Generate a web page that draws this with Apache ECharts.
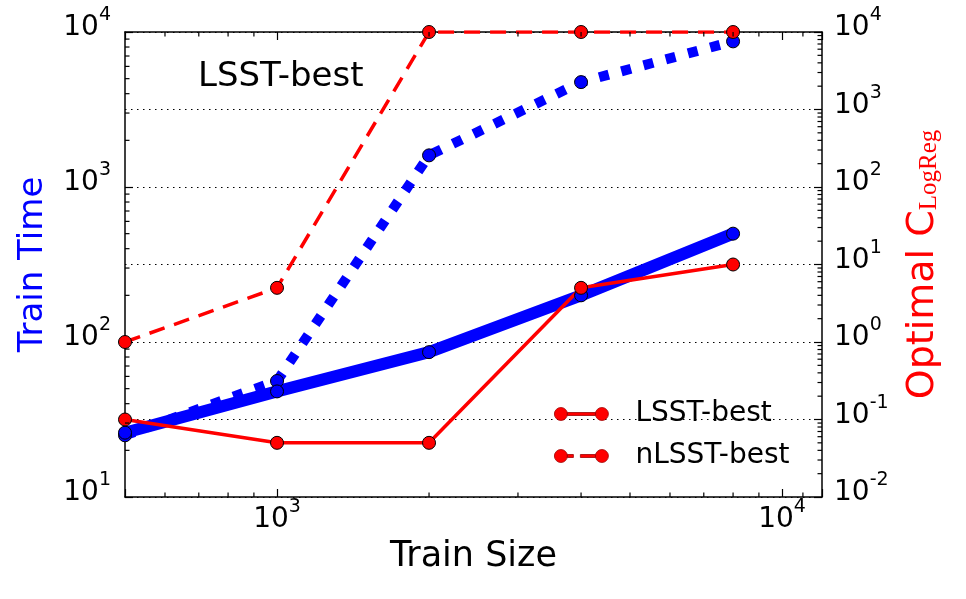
<!DOCTYPE html>
<html>
<head>
<meta charset="utf-8">
<script src="https://cdn.jsdelivr.net/npm/echarts@6/dist/echarts.min.js"></script>
<style>
  html, body { margin: 0; padding: 0; background: #fff; }
  #chart { width: 966px; height: 599px; }
</style>
</head>
<body>
<div id="chart"></div>
<script>
  // data
  const trainSize = [500, 1000, 2000, 4000, 8000];
  const lsstTime = [26, 48, 86, 200, 500];
  const nlsstTime = [25, 56, 1600, 4750, 8700];
  const lsstC = [0.1, 0.05, 0.05, 5, 10];
  const nlsstC = [1, 5, 10000, 10000, 10000];

  // axis ranges / minor tick positions
  const xRange = [500, 12000];
  const timeRange = [10, 10000];
  const cRange = [0.01, 10000];
  const minorMult = [2, 3, 4, 5, 6, 7, 8, 9];
  const xMinor = [600, 700, 800, 900, 2000, 3000, 4000, 5000, 6000, 7000, 8000, 9000, 11000];
  const timeDecades = [10, 100, 1000];
  const cDecades = [0.01, 0.1, 1, 10, 100, 1000];

  const font = "'DejaVu Sans', sans-serif";
  const chart = echarts.init(document.getElementById("chart"));

  function pairs(xs, ys) {
    return xs.map((x, i) => [x, ys[i]]);
  }

  function sci(v) {
    const l = Math.log10(v);
    const e = Math.round(l);
    if (Math.abs(l - e) > 1e-6) return "";
    return "{b|10}{s|" + e + "}";
  }

  const labelRich = {
    b: { fontSize: 28, lineHeight: 28, fontFamily: font, color: "#000", verticalAlign: "bottom" },
    s: { fontSize: 19, lineHeight: 19, fontFamily: font, color: "#000", verticalAlign: "bottom", padding: [0, 0, 17, 0] }
  };

  const spine = { show: true, lineStyle: { color: "#000", width: 1.5 } };
  const majorTick = { show: true, inside: true, length: 8, lineStyle: { color: "#000", width: 1.2 } };

  function minorData(decades) {
    const out = [];
    decades.forEach(d => minorMult.forEach(m => out.push(+(d * m).toPrecision(6))));
    return out;
  }

  function tickLine(x1, y1, x2, y2) {
    return { type: "line", shape: { x1: x1, y1: y1, x2: x2, y2: y2 }, style: { stroke: "#000", lineWidth: 1.2 } };
  }

  const redItem = { color: "#ff0000", borderColor: "#000", borderWidth: 1 };
  const blueItem = { color: "#0000ff", borderColor: "#000", borderWidth: 1 };

  // legend icons: marker - line - marker (like matplotlib)
  const circL = "M0,6.5 A6.5,6.5 0 1 1 13,6.5 A6.5,6.5 0 1 1 0,6.5 Z ";
  const circR = "M41,6.5 A6.5,6.5 0 1 1 54,6.5 A6.5,6.5 0 1 1 41,6.5 Z ";
  const iconSolid = "path://" + circL + "M13,5 L41,5 L41,8 L13,8 Z " + circR;
  const iconDash = "path://" + circL + "M13,5 L19,5 L19,8 L13,8 Z M26,5 L41,5 L41,8 L26,8 Z " + circR;

  // minor ticks, placed through the axes' own scales once the chart is laid out
  function minorTicks() {
    const els = [];
    xMinor.forEach(v => {
      const b = chart.convertToPixel({ xAxisIndex: 0, yAxisIndex: 0 }, [v, timeRange[0]]);
      const t = chart.convertToPixel({ xAxisIndex: 0, yAxisIndex: 0 }, [v, timeRange[1]]);
      els.push(tickLine(b[0], b[1], b[0], b[1] - 4.5));
      els.push(tickLine(t[0], t[1], t[0], t[1] + 4.5));
    });
    minorData(timeDecades).forEach(v => {
      const p = chart.convertToPixel({ xAxisIndex: 0, yAxisIndex: 0 }, [xRange[0], v]);
      els.push(tickLine(p[0], p[1], p[0] + 4.5, p[1]));
    });
    minorData(cDecades).forEach(v => {
      const p = chart.convertToPixel({ xAxisIndex: 0, yAxisIndex: 1 }, [xRange[1], v]);
      els.push(tickLine(p[0], p[1], p[0] - 4.5, p[1]));
    });
    return els.map(e => Object.assign(e, { silent: true, z: 5 }));
  }

  const option = {
    animation: false,
    backgroundColor: "#fff",
    title: {
      text: "LSST-best",
      left: 193,
      top: 55,
      textStyle: { fontSize: 34, fontWeight: "normal", color: "#000", fontFamily: font }
    },
    legend: {
      orient: "vertical",
      left: 549,
      top: 394,
      itemWidth: 54,
      itemHeight: 13,
      itemGap: 12,
      selectedMode: false,
      itemStyle: { borderColor: "#a00000", borderWidth: 0.8 },
      data: [
        { name: "LSST-best", icon: iconSolid },
        { name: "nLSST-best", icon: iconDash }
      ],
      textStyle: { fontSize: 28, lineHeight: 30, color: "#000", fontFamily: font, padding: [0, 0, 0, 22] }
    },
    grid: { left: 125, right: 144, top: 32, bottom: 102, containLabel: false },
    xAxis: [
      {
        type: "log",
        min: xRange[0],
        max: xRange[1],
        position: "bottom",
        name: "Train Size",
        nameLocation: "middle",
        nameGap: 42,
        nameTextStyle: { fontSize: 35, color: "#000", fontFamily: font },
        axisLine: spine,
        axisTick: majorTick,
        axisLabel: { formatter: sci, rich: labelRich, margin: 9, padding: [0, 0, 8, 0] },
        splitLine: { show: false }
      },
      {
        type: "log",
        min: xRange[0],
        max: xRange[1],
        position: "top",
        axisLine: spine,
        axisTick: majorTick,
        axisLabel: { show: false },
        splitLine: { show: false }
      }
    ],
    yAxis: [
      {
        type: "log",
        min: timeRange[0],
        max: timeRange[1],
        position: "left",
        name: "Train Time",
        nameLocation: "middle",
        nameRotate: 90,
        nameGap: 75,
        nameTextStyle: { fontSize: 34, color: "#0000ff", fontFamily: font },
        axisLine: spine,
        axisTick: majorTick,
        axisLabel: { formatter: sci, rich: labelRich, margin: 14, padding: [0, 0, 8, 0] },
        splitLine: { show: false }
      },
      {
        type: "log",
        min: cRange[0],
        max: cRange[1],
        position: "right",
        name: "{a|Optimal C}{b|LogReg}",
        nameLocation: "middle",
        nameRotate: 90,
        nameGap: 82,
        nameTextStyle: {
          rich: {
            a: { fontSize: 38, color: "#ff0000", fontFamily: font, verticalAlign: "bottom" },
            b: { fontSize: 25, color: "#ff0000", fontFamily: "'Liberation Serif', 'DejaVu Serif', serif", verticalAlign: "bottom" }
          }
        },
        axisLine: spine,
        axisTick: majorTick,
        axisLabel: { formatter: sci, rich: labelRich, margin: 12, padding: [0, 0, 8, 0] },
        splitLine: { show: true, lineStyle: { color: "#000", width: 1, type: [1.5, 4.5] } }
      }
    ],
    series: [
      {
        name: "nLSST-best time",
        type: "line",
        yAxisIndex: 0,
        data: pairs(trainSize, nlsstTime),
        symbol: "circle",
        symbolSize: 13,
        itemStyle: blueItem,
        lineStyle: { color: "#0000ff", width: 10, type: [10, 13], cap: "butt" }
      },
      {
        name: "LSST-best time",
        type: "line",
        yAxisIndex: 0,
        data: pairs(trainSize, lsstTime),
        symbol: "circle",
        symbolSize: 13,
        itemStyle: blueItem,
        lineStyle: { color: "#0000ff", width: 12, type: "solid" }
      },
      {
        name: "LSST-best",
        type: "line",
        yAxisIndex: 1,
        data: pairs(trainSize, lsstC),
        symbol: "circle",
        symbolSize: 13,
        itemStyle: redItem,
        lineStyle: { color: "#ff0000", width: 3.5, type: "solid" }
      },
      {
        name: "nLSST-best",
        type: "line",
        yAxisIndex: 1,
        data: pairs(trainSize, nlsstC),
        symbol: "circle",
        symbolSize: 13,
        itemStyle: redItem,
        lineStyle: { color: "#ff0000", width: 3.5, type: [16, 10], cap: "butt" }
      }
    ]
  };

  chart.setOption(option);
  chart.setOption({ graphic: { elements: minorTicks() } });
  window.addEventListener("resize", () => {
    chart.resize();
    chart.setOption({ graphic: { elements: minorTicks() } }, { replaceMerge: ["graphic"] });
  });
</script>
</body>
</html>
